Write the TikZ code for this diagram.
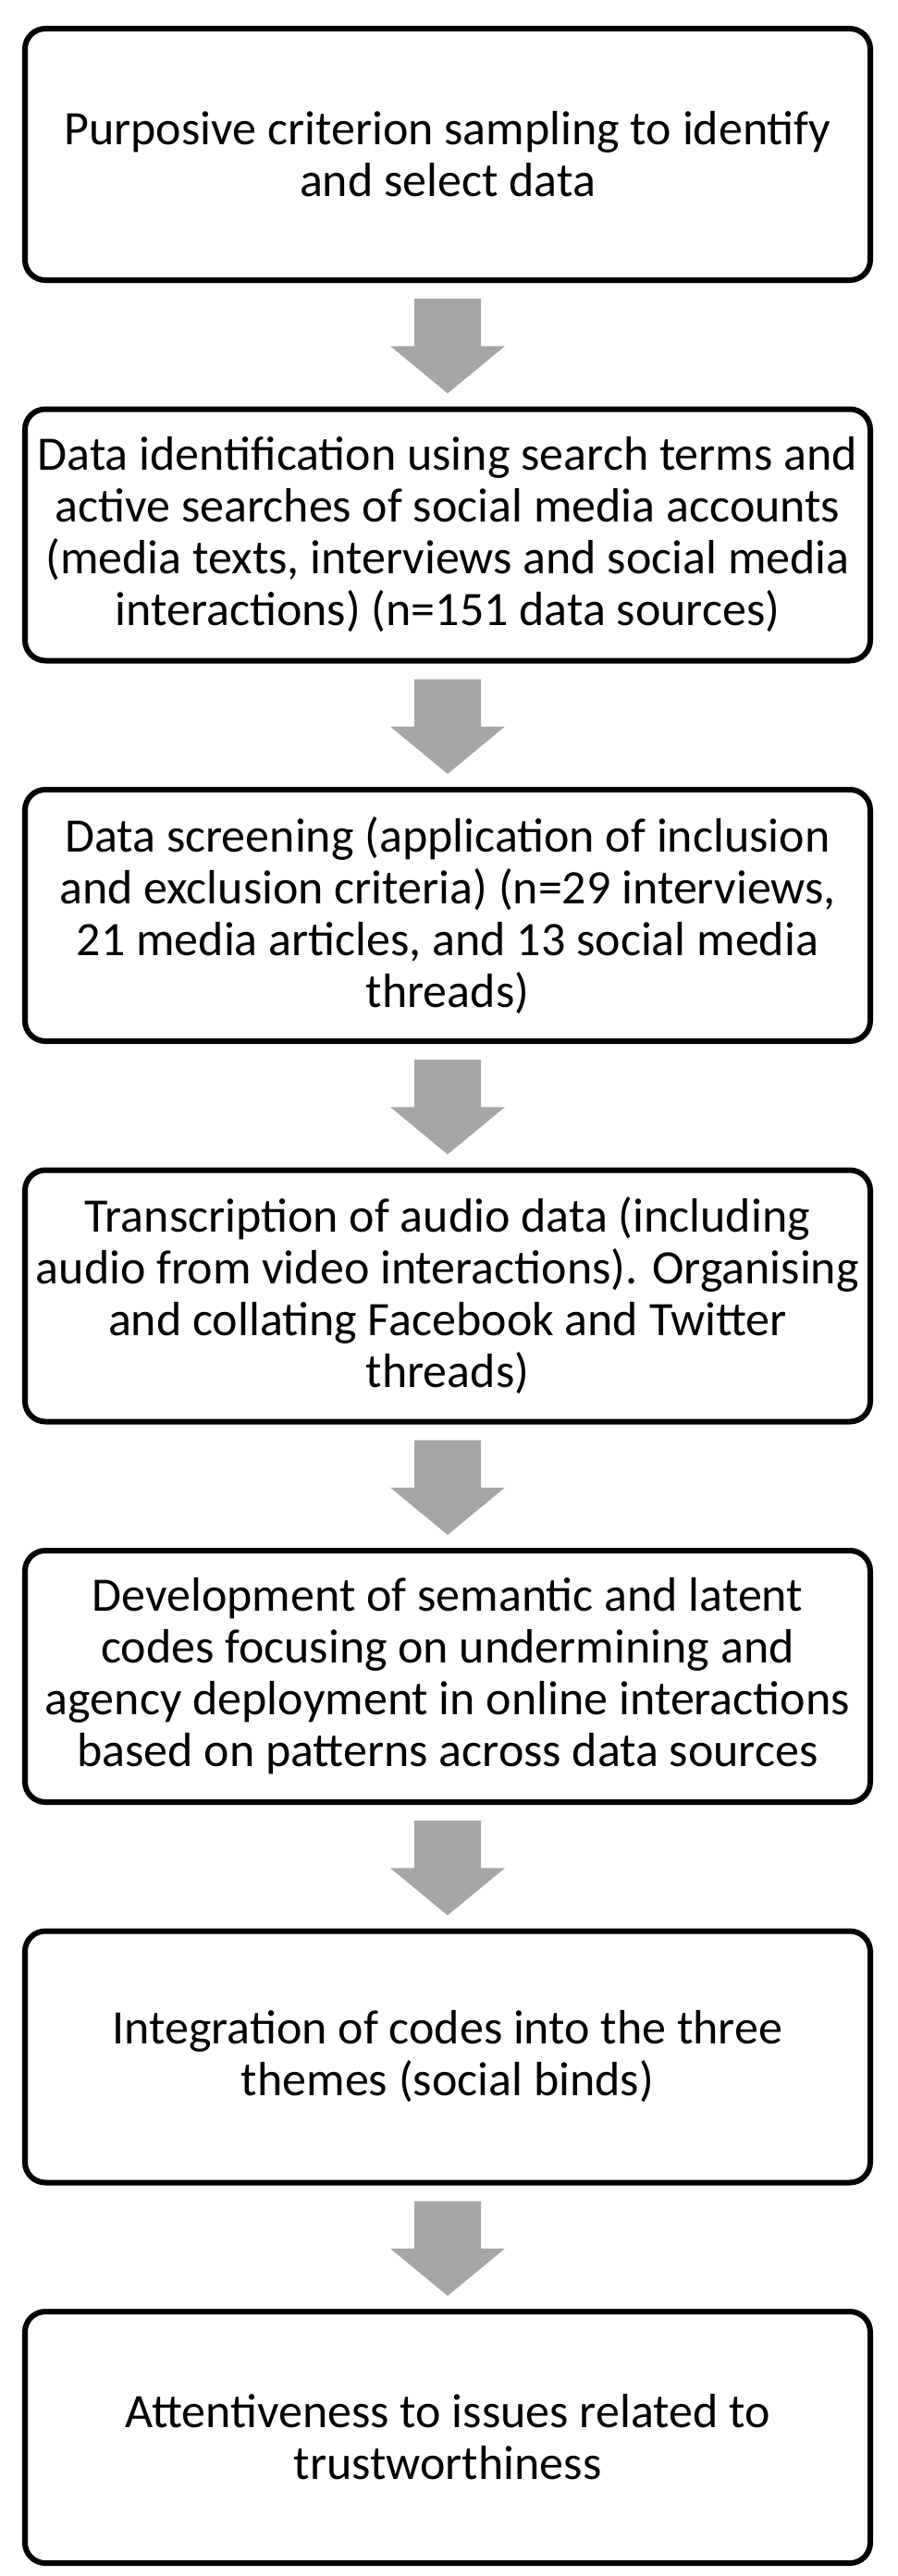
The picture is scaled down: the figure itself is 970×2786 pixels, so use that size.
\documentclass[tikz,border=0pt]{standalone}
\usepackage{fontspec}
\setmainfont{Carlito}
\usetikzlibrary{calc}
\begin{document}
\begin{tikzpicture}[x=1pt,y=-1pt,
  box/.style={draw=black,line width=6pt,rounded corners=22pt,minimum width=914pt,minimum height=272pt,
    align=center,font=\fontsize{52}{56}\selectfont,inner sep=0pt,anchor=north},
  arr/.style={fill=black!35,draw=none}]
\useasboundingbox (0,0) rectangle (970,2786);
\foreach \i/\t in {1/{Purposive criterion sampling to identify\\and select data},
 2/{Data identification using search terms and\\active searches of social media accounts\\(media texts, interviews and social media\\interactions) (n=151 data sources)},
 3/{Data screening (application of inclusion\\and exclusion criteria) (n=29 interviews,\\21 media articles, and 13 social media\\threads)},
 4/{Transcription of audio data (including\\audio from video interactions). Organising\\and collating Facebook and Twitter\\threads)},
 5/{Development of semantic and latent\\codes focusing on undermining and\\agency deployment in online interactions\\based on patterns across data sources},
 6/{Integration of codes into the three\\themes (social binds)},
 7/{Attentiveness to issues related to\\trustworthiness}}{
  \node[box] (b\i) at (484,{28+(\i-1)*411.5}) {\t};
}
\foreach \i [evaluate=\i as \j using int(\i+1)] in {1,...,6}{
  \coordinate (s\i) at ($(b\i.south)+(0,17)$);
  \coordinate (e\i) at ($(b\j.north)+(0,-14)$);
  \fill[arr] ($(s\i)+(-36,0)$) -- ($(s\i)+(36,0)$) -- ($(s\i)!0.5!(e\i)+(36,0)$) -- ($(s\i)!0.5!(e\i)+(62,0)$)
    -- (e\i) -- ($(s\i)!0.5!(e\i)+(-62,0)$) -- ($(s\i)!0.5!(e\i)+(-36,0)$) -- cycle;
}
\end{tikzpicture}
\end{document}
